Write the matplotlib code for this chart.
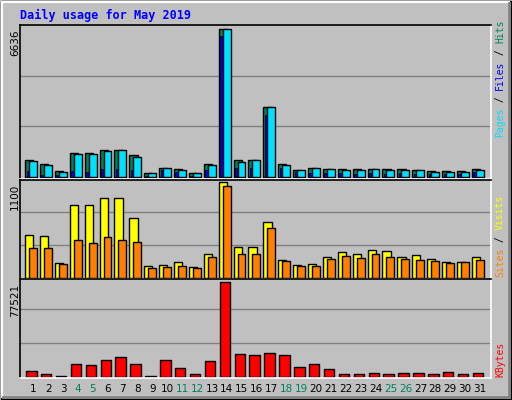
import matplotlib
matplotlib.use("Agg")
import matplotlib.pyplot as plt
from matplotlib.patches import Rectangle

days = list(range(1, 32))
hits = [752,602,300,1098,1098,1234,1234,978,196,421,376,196,602,6636,752,752,3175,602,331,421,376,376,376,376,376,376,331,286,286,286,376]
files = [707,557,240,1053,1053,1189,1234,918,196,421,331,196,557,6636,692,752,3175,557,331,421,376,331,331,376,331,331,331,240,240,240,331]
pages = [300,120,100,300,240,390,390,346,75,346,240,45,346,6350,421,421,2784,421,240,196,196,196,150,196,150,196,150,150,150,150,240]
visits = [494,482,171,841,841,913,913,686,135,147,183,124,279,1100,351,351,638,207,147,159,243,291,279,315,303,243,267,219,183,183,243]
sites = [339,339,159,434,399,470,434,410,112,124,135,112,243,1056,279,279,566,195,135,135,219,255,231,279,243,219,207,195,171,183,207]
kbytes = [4527,1980,1132,10468,9620,13863,16410,10468,1132,13863,7073,1980,13014,77521,18956,18107,19805,18107,7922,10468,6224,1980,1980,2829,1980,2829,2829,1980,3678,1980,2829]
weekends = [4,5,11,12,18,19,25,26]

W, H = 512, 400
fig = plt.figure(figsize=(5.12, 4.0), dpi=100)
fig.patch.set_facecolor("#C0C0C0")
bg = fig.add_axes([0, 0, 1, 1]); bg.set_axis_off(); bg.set_xlim(0, W); bg.set_ylim(H, 0)
bg.add_patch(Rectangle((0.5, 0.5), W-1.5, H-1.5, fill=False, ec="black", lw=1))
bg.add_patch(Rectangle((2, 2), W-5, H-5, fill=False, ec="white", lw=1.5))
bg.plot([3, W-3], [H-3, H-3], color="#808080", lw=2)
bg.plot([W-3, W-3], [3, H-3], color="#808080", lw=2)

def ax_at(top, bottom):
    a = fig.add_axes([20/W, 1-bottom/H, (491-20)/W, (bottom-top)/H])
    a.set_facecolor("#C0C0C0")
    a.set_xlim(0.107, 31.74)
    for s in ["left", "top"]:
        a.spines[s].set_color("black"); a.spines[s].set_linewidth(1.2)
    for s in ["right", "bottom"]:
        a.spines[s].set_color("white"); a.spines[s].set_linewidth(1.2)
    a.set_yticks([]); a.set_xticks([])
    return a

def grid(a, top):
    for f in (1/3, 2/3):
        a.axhline(top*f, color="#808080", lw=1, zorder=0)

kw = dict(align="edge", edgecolor="black", linewidth=1, zorder=2)
mono = "DejaVu Sans Mono"

a1 = ax_at(25, 179)
a1.set_ylim(-80, 6636*1.03)
grid(a1, 6636*1.03)
a1.bar([d-0.55 for d in days], hits, width=0.55, color="#00805C", **kw)
a1.bar([d-0.45 for d in days], pages, width=0.16, color="#0000FF", edgecolor="black", linewidth=0.5, align="edge", zorder=2)
a1.bar([d-0.28 for d in days], files, width=0.53, color="#00E0FF", **kw)

a2 = ax_at(180, 279)
a2.set_ylim(-13, 1100*1.02)
grid(a2, 1100*1.03)
a2.bar([d-0.55 for d in days], visits, width=0.55, color="#FFFF00", **kw)
a2.bar([d-0.28 for d in days], sites, width=0.53, color="#FF8000", **kw)

a3 = ax_at(279, 378)
a3.set_ylim(-900, 77521*1.03)
grid(a3, 77521*1.07)
a3.bar([d-0.48 for d in days], kbytes, width=0.7, color="#FF0000", **kw)
for d in days:
    a3.text(d, -0.06, str(d), transform=a3.get_xaxis_transform(), ha="center", va="top",
            fontsize=7.5, family="DejaVu Sans", color="#00805C" if d in weekends else "black")

bg.text(20, 15, "Daily usage for May 2019", color="#0000FF", fontsize=8.5, family=mono,
        fontweight="bold", va="center", ha="left")
for y, t in [(30, "6636"), (184, "1100"), (284, "77521")]:
    bg.text(15, y, t, rotation=90, ha="center", va="top", fontsize=7.5, family="DejaVu Sans")

def rlabel(y0, parts):
    y = y0
    for t, c in parts:
        bg.text(500, y, t, rotation=90, ha="center", va="bottom", fontsize=7, family=mono, color=c)
        y -= 5.85 * len(t)

rlabel(137, [("Pages", "#00E0FF"), (" / ", "black"), ("Files", "#0000FF"), (" / ", "black"), ("Hits", "#00805C")])
rlabel(277, [("Sites", "#FF8000"), (" / ", "black"), ("Visits", "#FFFF00")])
rlabel(377, [("KBytes", "#FF0000")])

fig.savefig("out.png", dpi=100, facecolor=fig.get_facecolor())
